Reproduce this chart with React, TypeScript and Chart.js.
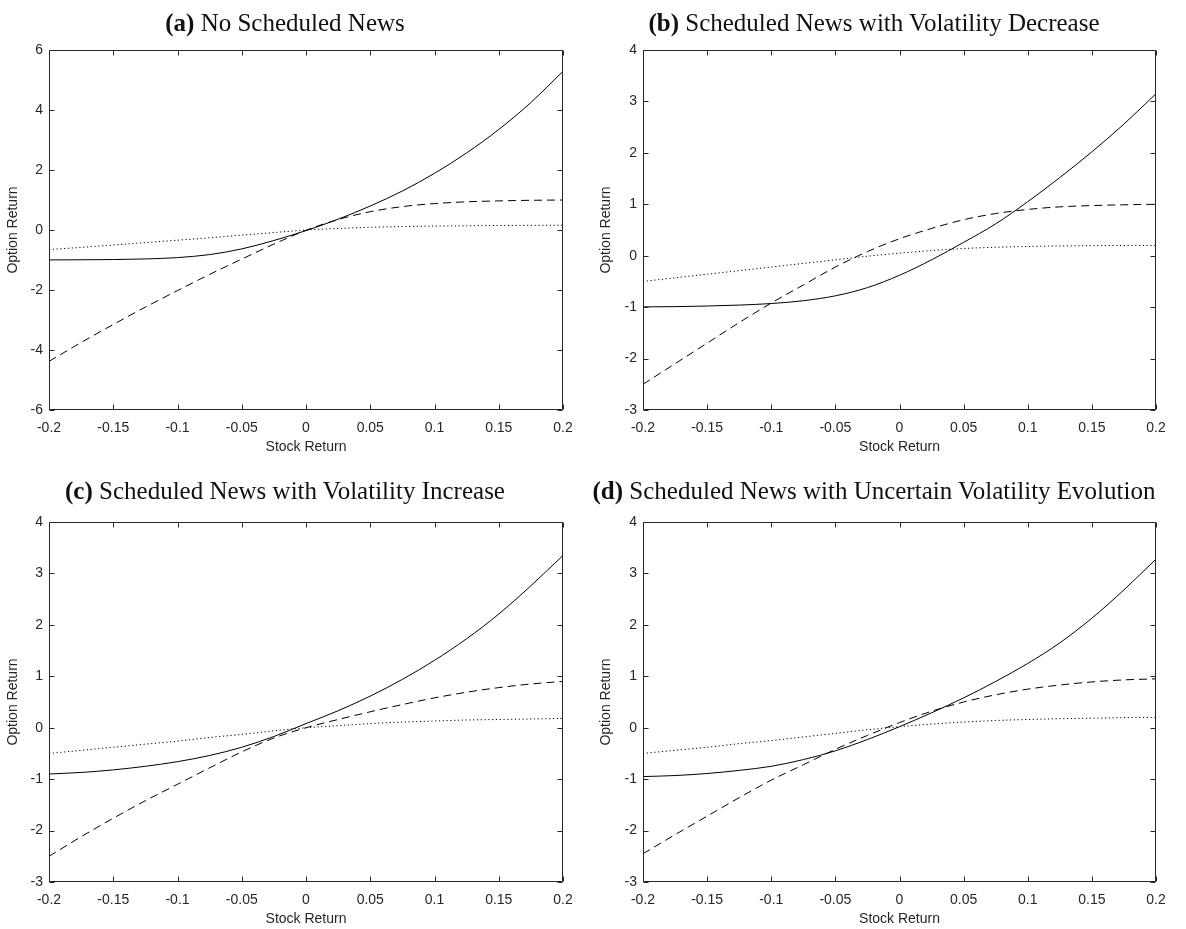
import React, { useEffect, useRef } from "react";
import { Chart, registerables } from "chart.js";

Chart.register(...registerables);

// ---------- data ----------
const stockReturns = [
  -0.2, -0.175, -0.15, -0.125, -0.1, -0.075, -0.05, -0.025, 0, 0.025, 0.05,
  0.075, 0.1, 0.125, 0.15, 0.175, 0.2,
];

const xTickValues = [-0.2, -0.15, -0.1, -0.05, 0, 0.05, 0.1, 0.15, 0.2];
const xTickLabels = ["-0.2", "-0.15", "-0.1", "-0.05", "0", "0.05", "0.1", "0.15", "0.2"];
const yTicksA = [-6, -4, -2, 0, 2, 4, 6];
const yTicksBCD = [-3, -2, -1, 0, 1, 2, 3, 4];

const titleLetters = ["(a)", "(b)", "(c)", "(d)"];
const titleTexts = [
  "No Scheduled News",
  "Scheduled News with Volatility Decrease",
  "Scheduled News with Volatility Increase",
  "Scheduled News with Uncertain Volatility Evolution",
];

// (a) No Scheduled News
const solidA = [-0.997, -0.993, -0.985, -0.965, -0.92, -0.82, -0.63, -0.35, -0.02, 0.36, 0.8, 1.3, 1.89, 2.57, 3.35, 4.25, 5.29];
const dashedA = [-4.38, -3.75, -3.15, -2.57, -2.02, -1.48, -0.97, -0.47, -0.01, 0.35, 0.61, 0.78, 0.88, 0.94, 0.97, 0.99, 1.0];
const dottedA = [-0.65, -0.58, -0.5, -0.42, -0.34, -0.26, -0.17, -0.085, 0.0, 0.05, 0.09, 0.115, 0.13, 0.14, 0.15, 0.155, 0.16];

// (b) Volatility Decrease
const solidB = [-0.995, -0.99, -0.978, -0.96, -0.93, -0.875, -0.78, -0.62, -0.38, -0.08, 0.26, 0.62, 1.05, 1.52, 2.02, 2.56, 3.15];
const dashedB = [-2.5, -2.1, -1.7, -1.3, -0.92, -0.57, -0.22, 0.08, 0.33, 0.53, 0.7, 0.82, 0.9, 0.95, 0.975, 0.99, 1.0];
const dottedB = [-0.5, -0.43, -0.36, -0.29, -0.22, -0.15, -0.08, -0.01, 0.05, 0.1, 0.14, 0.165, 0.18, 0.19, 0.195, 0.2, 0.2];

// (c) Volatility Increase
const solidC = [-0.9, -0.87, -0.82, -0.75, -0.66, -0.54, -0.38, -0.17, 0.08, 0.33, 0.615, 0.94, 1.31, 1.73, 2.21, 2.76, 3.35];
const dashedC = [-2.5, -2.12, -1.76, -1.42, -1.1, -0.78, -0.47, -0.2, 0.0, 0.16, 0.31, 0.45, 0.58, 0.69, 0.78, 0.85, 0.9];
const dottedC = [-0.5, -0.44, -0.38, -0.32, -0.26, -0.19, -0.13, -0.06, 0.0, 0.04, 0.08, 0.11, 0.13, 0.15, 0.16, 0.17, 0.18];

// (d) Uncertain Volatility Evolution
const solidD = [-0.95, -0.93, -0.89, -0.83, -0.75, -0.62, -0.45, -0.23, 0.02, 0.29, 0.58, 0.9, 1.25, 1.65, 2.13, 2.68, 3.28];
const dashedD = [-2.45, -2.08, -1.72, -1.36, -1.02, -0.72, -0.42, -0.15, 0.1, 0.32, 0.5, 0.64, 0.75, 0.83, 0.89, 0.93, 0.95];
const dottedD = [-0.5, -0.44, -0.38, -0.31, -0.25, -0.18, -0.11, -0.04, 0.02, 0.07, 0.11, 0.14, 0.16, 0.175, 0.185, 0.195, 0.2];

// ---------- styling ----------
const AXIS_COLOR = "#262626";
const SANS = '"Liberation Sans", Arial, sans-serif';
const SERIF = '"Liberation Serif", "Times New Roman", serif';

const CANVAS_W = 593;
const CANVAS_H = 464;

const boxPlugin = {
  id: "matlabBox",
  afterDraw(chart: any) {
    const { ctx, chartArea: a, scales } = chart;
    const L = Math.round(a.left) + 0.5;
    const R = Math.round(a.right) - 0.5;
    const T = Math.round(a.top) + 0.5;
    const B = Math.round(a.bottom) - 0.5;
    const tl = 5;
    ctx.save();
    ctx.strokeStyle = AXIS_COLOR;
    ctx.lineWidth = 1;
    ctx.beginPath();
    ctx.rect(L, T, R - L, B - T);
    scales.x.ticks.forEach((t: any) => {
      const px = Math.round(scales.x.getPixelForValue(t.value)) + 0.5;
      ctx.moveTo(px, B);
      ctx.lineTo(px, B - tl);
      ctx.moveTo(px, T);
      ctx.lineTo(px, T + tl);
    });
    scales.y.ticks.forEach((t: any) => {
      const py = Math.round(scales.y.getPixelForValue(t.value)) + 0.5;
      ctx.moveTo(L, py);
      ctx.lineTo(L + tl, py);
      ctx.moveTo(R, py);
      ctx.lineTo(R - tl, py);
    });
    ctx.stroke();
    ctx.restore();
  },
};

type PanelProps = {
  solid: number[];
  dashed: number[];
  dotted: number[];
  yTicks: number[];
  yAxisWidth: number;
  left: number;
  top: number;
};

function Panel({ solid, dashed, dotted, yTicks, yAxisWidth, left, top }: PanelProps) {
  const ref = useRef<HTMLCanvasElement>(null);
  useEffect(() => {
    const toPts = (arr: number[]) => stockReturns.map((x, i) => ({ x, y: arr[i] }));
    const line = (arr: number[], dash: number[]) => ({
      data: toPts(arr),
      borderColor: "#000",
      borderWidth: 1,
      borderDash: dash,
      pointRadius: 0,
      fill: false,
      cubicInterpolationMode: "monotone" as const,
    });
    const chart = new Chart(ref.current as HTMLCanvasElement, {
      type: "line",
      data: {
        datasets: [line(solid, []), line(dashed, [8, 5]), line(dotted, [1.2, 2.6])],
      },
      options: {
        animation: false,
        responsive: false,
        layout: { padding: { top: 50, right: 30, left: 0, bottom: 0 } },
        plugins: { legend: { display: false }, tooltip: { enabled: false } },
        scales: {
          x: {
            type: "linear",
            min: -0.2,
            max: 0.2,
            afterBuildTicks: (s: any) => {
              s.ticks = xTickValues.map((v) => ({ value: v }));
            },
            afterFit: (s: any) => {
              s.height = 54;
            },
            ticks: {
              autoSkip: false,
              maxRotation: 0,
              padding: 10,
              color: AXIS_COLOR,
              font: { family: SANS, size: 14 },
              callback: (_v: any, i: number) => xTickLabels[i],
            },
            grid: { display: false, drawTicks: false },
            border: { display: false },
            title: {
              display: true,
              text: "Stock Return",
              color: AXIS_COLOR,
              font: { family: SANS, size: 14 },
              padding: { top: 0, bottom: 8.6 },
            },
          },
          y: {
            type: "linear",
            min: yTicks[0],
            max: yTicks[yTicks.length - 1],
            afterBuildTicks: (s: any) => {
              s.ticks = yTicks.map((v) => ({ value: v }));
            },
            afterFit: (s: any) => {
              s.width = yAxisWidth;
            },
            ticks: {
              autoSkip: false,
              padding: 6,
              color: AXIS_COLOR,
              font: { family: SANS, size: 14 },
              callback: (v: any) => String(v),
            },
            grid: { display: false, drawTicks: false },
            border: { display: false },
            title: {
              display: true,
              text: "Option Return",
              color: AXIS_COLOR,
              font: { family: SANS, size: 14 },
              padding: { top: 4.6, bottom: 0 },
            },
          },
        },
      },
      plugins: [boxPlugin],
    } as any);
    return () => chart.destroy();
  }, []);
  return (
    <canvas
      ref={ref}
      width={CANVAS_W}
      height={CANVAS_H}
      style={{ position: "absolute", left, top, width: CANVAS_W, height: CANVAS_H }}
    />
  );
}

function Title({ idx, cx, top }: { idx: number; cx: number; top: number }) {
  return (
    <div
      style={{
        position: "absolute",
        left: cx,
        top,
        transform: "translateX(-50%)",
        whiteSpace: "nowrap",
        fontFamily: SERIF,
        fontSize: 25,
        lineHeight: "25px",
        color: "#111",
      }}
    >
      <b>{titleLetters[idx]}</b> {titleTexts[idx]}
    </div>
  );
}

export default function App() {
  return (
    <div
      style={{
        position: "absolute",
        left: 0,
        top: 0,
        width: 1186,
        height: 929,
        background: "#fff",
        overflow: "hidden",
      }}
    >
      <Panel solid={solidA} dashed={dashedA} dotted={dottedA} yTicks={yTicksA} yAxisWidth={49} left={0} top={0} />
      <Panel solid={solidB} dashed={dashedB} dotted={dottedB} yTicks={yTicksBCD} yAxisWidth={50} left={593} top={0} />
      <Panel solid={solidC} dashed={dashedC} dotted={dottedC} yTicks={yTicksBCD} yAxisWidth={49} left={0} top={472} />
      <Panel solid={solidD} dashed={dashedD} dotted={dottedD} yTicks={yTicksBCD} yAxisWidth={50} left={593} top={472} />
      <Title idx={0} cx={285} top={10} />
      <Title idx={1} cx={874} top={10} />
      <Title idx={2} cx={285} top={478} />
      <Title idx={3} cx={874} top={478} />
    </div>
  );
}
